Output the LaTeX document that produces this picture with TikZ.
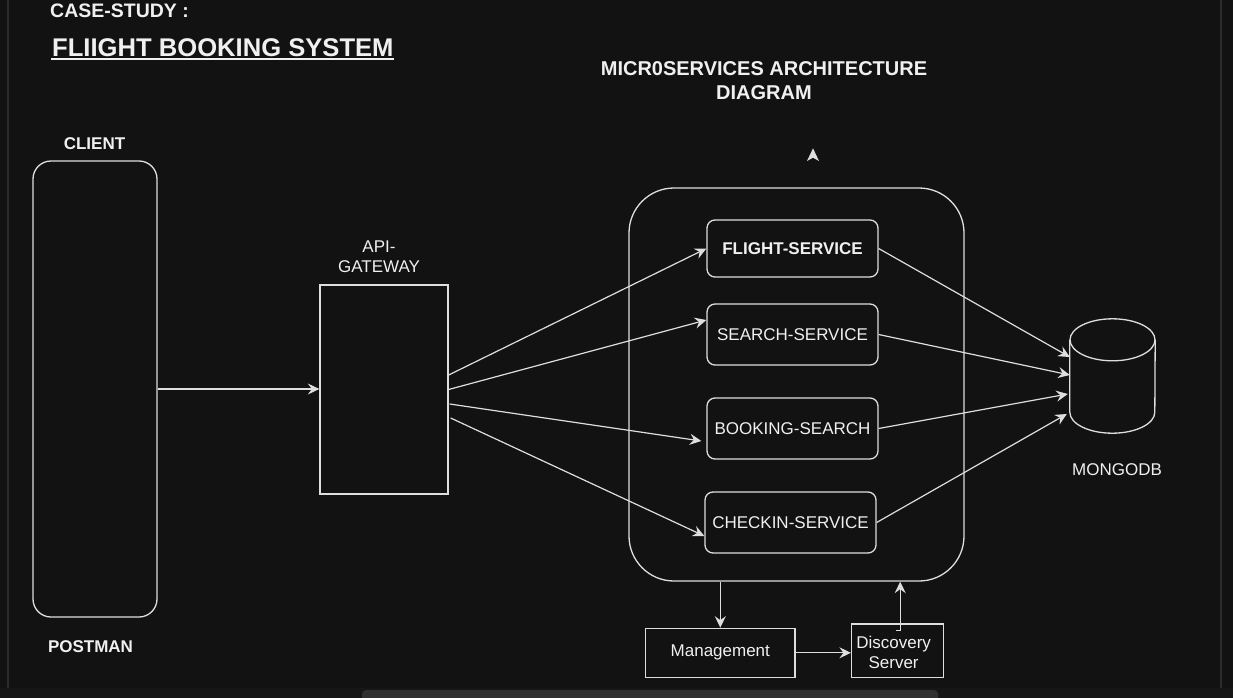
\documentclass[tikz,border=0pt]{standalone}
\usepackage{fontspec}
\setmainfont{Liberation Sans}
\usetikzlibrary{arrows.meta,calc}
\definecolor{bgc}{RGB}{18,18,18}
\definecolor{lc}{RGB}{222,222,222}
\definecolor{tc}{RGB}{240,240,240}
\definecolor{barc}{RGB}{44,44,44}
\definecolor{stripc}{RGB}{22,22,22}
\definecolor{scrollc}{RGB}{48,48,48}
\begin{document}
\begin{tikzpicture}[x=1pt,y=-1pt,
  box/.style={draw=lc,line width=1.3pt,inner sep=0pt,fill=bgc,text=tc,font=\fontsize{17}{20}\selectfont},
  lbl/.style={text=tc,inner sep=0pt,font=\fontsize{17}{20}\selectfont},
  blbl/.style={text=tc,inner sep=0pt,font=\fontsize{17}{20}\selectfont\bfseries},
  hlbl/.style={text=tc,inner sep=0pt,font=\fontsize{20}{24}\selectfont\bfseries},
  conn/.style={draw=lc,line width=1.2pt,-{Stealth[length=11.5pt,width=11pt,inset=4pt]}}]
\fill[bgc] (0,0) rectangle (1233,698);
\useasboundingbox (0,0) rectangle (1233,698);
% window frame
\fill[barc] (6.5,0) rectangle (8.5,688);
\fill[barc] (1220,0) rectangle (1222,688);
\fill[stripc] (0,688) rectangle (1233,698);
\fill[scrollc, rounded corners=4pt] (362,690) rectangle (938,702);

% titles
\node[hlbl,font=\fontsize{19.5}{24}\selectfont\bfseries,anchor=base west] (case) at (50,18) {CASE-STUDY :};
\node[hlbl,font=\fontsize{25.6}{30}\selectfont\bfseries,anchor=base west] (title) at (52,56.5) {FLIIGHT BOOKING SYSTEM};
\draw[tc,line width=1.5pt] ($(title.base west)+(-0.7,2.6)$) -- ($(title.base east)+(0.7,2.6)$);
\node[hlbl,align=center,anchor=north] (arch) at (764,61) {MICR0SERVICES ARCHITECTURE\\DIAGRAM};

% client
\node[blbl,anchor=base] (clientlbl) at (94.5,149) {CLIENT};
\node[box,rounded corners=18pt,minimum width=124pt,minimum height=456pt] (client) at (95,389) {};
\node[blbl,anchor=base] (postman) at (90.5,652) {POSTMAN};

% gateway
\node[lbl,align=center,anchor=north] (gwlbl) at (379,241) {API-\\GATEWAY};
\node[box,minimum width=128pt,minimum height=209pt] (gw) at (384,389.5) {};
\draw[conn] (client.east) -- (client.east -| gw.west);

% container
\node[box,rounded corners=45pt,minimum width=335pt,minimum height=393pt] (cont) at (796.5,384.5) {};

% stray arrowhead
\fill[lc] (813,148.3) -- (819,161) -- (813,157.7) -- (807,161) -- cycle;

% services
\node[box,rounded corners=8pt,minimum width=171pt,minimum height=57pt,font=\fontsize{17}{20}\selectfont\bfseries] (fs) at (792.5,248.5) {FLIGHT-SERVICE};
\node[box,rounded corners=8pt,minimum width=171pt,minimum height=61pt] (ss) at (792.5,334.5) {SEARCH-SERVICE};
\node[box,rounded corners=8pt,minimum width=171pt,minimum height=61pt] (bs) at (792.5,428.5) {BOOKING-SEARCH};
\node[box,rounded corners=8pt,minimum width=171pt,minimum height=61pt] (cs) at (790.5,522.5) {CHECKIN-SERVICE};

% gateway -> services
\draw[conn] ($(gw.east)+(0,-14.5)$) -- (fs.west);
\draw[conn] (gw.east) -- ($(ss.west)+(0,-14.5)$);
\draw[conn] ($(gw.east)+(1,14.5)$) -- ($(bs.west)+(-5,12.5)$);
\draw[conn] ($(gw.east)+(2,28.5)$) -- ($(cs.west)+(0,13.5)$);

% database
\node[minimum width=85pt,minimum height=114pt,inner sep=0pt] (db) at (1112.5,376) {};
\draw[lc,line width=1.3pt] ($(db.north)+(0,21)$) ellipse [x radius=42.5pt,y radius=21pt];
\draw[lc,line width=1.3pt] ($(db.north west)+(0,21)$) -- ($(db.south west)+(0,-21)$)
  arc[start angle=180,end angle=360,x radius=42.5pt,y radius=21pt] -- ($(db.north east)+(0,21)$);
\node[lbl,anchor=base] (dblbl) at (1117,475.7) {MONGODB};

% services -> db
\draw[conn] (fs.east) -- ($(db.west)+(0,-19)$);
\draw[conn] (ss.east) -- ($(db.west)+(0,-1)$);
\draw[conn] (bs.east) -- ($(db.west)+(-2,18)$);
\draw[conn] (cs.east) -- ($(db.west)+(-3,38)$);

% bottom
\node[box,minimum width=149.4pt,minimum height=49pt] (mg) at (720.3,652.8) {Management};
\node[box,minimum width=91.7pt,minimum height=53.3pt] (ds) at (897.4,650.7) {};
\node[lbl,align=center,anchor=north] (dslbl) at (893.6,636) {Discovery\\Server};
\draw[conn] (mg.north |- cont.south) -- (mg.north);
\draw[conn] (mg.east) -- (mg.east -| ds.west);
\coordinate (dsp) at ($(ds.north)+(2.8,7)$);
\draw[conn] ($(dsp)+(-4,0)$) -- (dsp) -- (dsp |- cont.south);
\end{tikzpicture}
\end{document}
